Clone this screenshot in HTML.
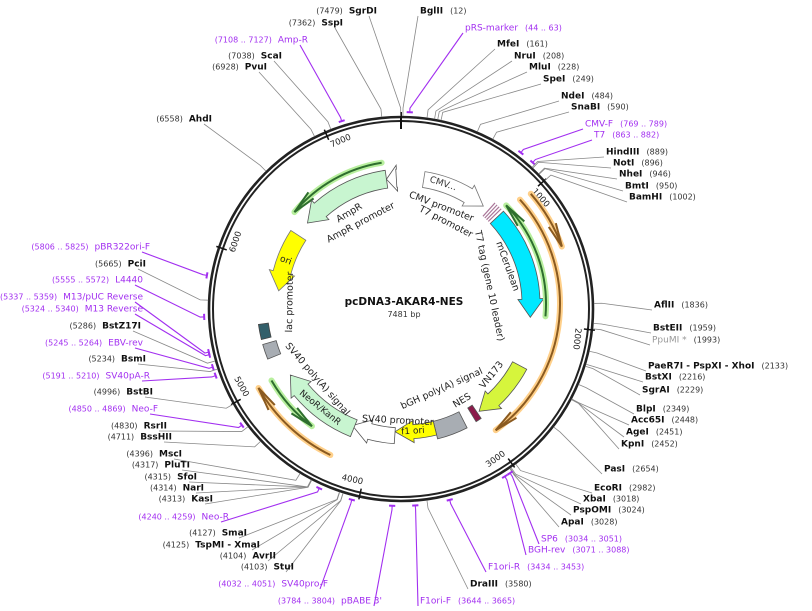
<!DOCTYPE html>
<html><head><meta charset="utf-8"><style>
html,body{margin:0;padding:0;background:#fff;}
svg{display:block;font-family:"DejaVu Sans","Liberation Sans",sans-serif;}
</style></head><body>
<svg id="s" width="812" height="611" viewBox="0 0 812 611" xmlns="http://www.w3.org/2000/svg"></svg>
<script>
var S=document.getElementById('s');var NS='http://www.w3.org/2000/svg';var PAR=S;
var cx=401,cy=309,TOT=7481;
function P(a,r){var t=a*Math.PI/180;return [cx+r*Math.sin(t),cy-r*Math.cos(t)];}
function el(tag,at,txt){var e=document.createElementNS(NS,tag);for(var k in at)e.setAttribute(k,at[k]);if(txt!=null)e.textContent=txt;PAR.appendChild(e);return e;}
function ang(bp){return bp/TOT*360;}
function arcD(a1,a2,r){var p1=P(a1,r),p2=P(a2,r);var sw=a2>a1?1:0;var lg=Math.abs(a2-a1)>180?1:0;return 'M'+p1[0]+' '+p1[1]+' A'+r+' '+r+' 0 '+lg+' '+sw+' '+p2[0]+' '+p2[1];}
function band(a1,a2,r,w,fill,stroke,h){
 h=h||7;var sg=a2>a1?1:-1;var ab=a2-sg*h*150/r;var ro=r+w/2,ri=r-w/2;
 var o1=P(a1,ro),o2=P(ab,ro),ho=P(ab,ro+4),t=P(a2,r),hi=P(ab,ri-4),i2=P(ab,ri),i1=P(a1,ri);
 var sw=sg>0?1:0;
 var d='M'+o1+' A'+ro+' '+ro+' 0 0 '+sw+' '+o2+' L'+ho+' L'+t+' L'+hi+' L'+i2+' A'+ri+' '+ri+' 0 0 '+(1-sw)+' '+i1+' Z';
 el('path',{d:d,fill:fill,stroke:stroke||'#555','stroke-width':0.8});
}
function box(a1,a2,r,w,fill,stroke){var ro=r+w/2,ri=r-w/2;var o1=P(a1,ro),o2=P(a2,ro),i2=P(a2,ri),i1=P(a1,ri);
 el('path',{d:'M'+o1+' A'+ro+' '+ro+' 0 0 1 '+o2+' L'+i2+' A'+ri+' '+ri+' 0 0 0 '+i1+' Z',fill:fill,stroke:stroke||'#555','stroke-width':0.8});}
function line(a1,a2,r,col,glow){
 el('path',{d:arcD(a1,a2,r),fill:'none',stroke:glow,'stroke-width':6,'stroke-linecap':'round'});
 el('path',{d:arcD(a1,a2,r),fill:'none',stroke:col,'stroke-width':2});
 var sg=a2>a1?1:-1;var ab=a2-sg*9*150/r;var t=P(a2,r),a=P(ab,r+4),b=P(ab,r-4);
 el('path',{d:'M'+a+' L'+t+' L'+b,fill:'none',stroke:col,'stroke-width':2});
}
function rtext(a,r,txt,size,rot,col,bold){var p=P(a,r);el('text',{x:p[0],y:p[1],'font-size':size,'text-anchor':'middle','dominant-baseline':'central',fill:col||'#222','font-weight':bold?'bold':'normal',transform:'rotate('+rot+' '+p[0]+' '+p[1]+')'},txt);}

// backbone circle
el('circle',{cx:cx,cy:cy,r:192,fill:'none',stroke:'#222','stroke-width':2.6});
el('circle',{cx:cx,cy:cy,r:188,fill:'none',stroke:'#222','stroke-width':2});
el('line',{x1:cx,y1:cy-197,x2:cx,y2:cy-180,stroke:'#111','stroke-width':2});
for(var k=1;k<=7;k++){var a=ang(k*1000);var p1=P(a,195),p2=P(a,184);el('line',{x1:p1[0],y1:p1[1],x2:p2[0],y2:p2[1],stroke:'#111','stroke-width':1.5});
 var rot=(a>100&&a<260)?a-180:a; rtext(a+3.4,178,String(k*1000),8.5,rot,'#222');}

// inner features group (measured relative to 404,304)
var G=el('g',{transform:'translate(3,-5)'});PAR=G;
line(-9,-50,143,'#2e6e2e','#b8ef9e');
band(-8,-50,126,18,'#c8f5d0','#555');
band(-3.5,-8,126,18,'#fff','#555',4);
band(-57,-84,126,18,'#ffff00','#777');
band(9,39,126,16,'#fff','#777');
rtext(18,126,'CMV...',9,18,'#333');
for(var i=0;i<4;i++){var q1=P(42+i*1.2,118),q2=P(42+i*1.2,136);el('line',{x1:q1[0],y1:q1[1],x2:q2[0],y2:q2[1],stroke:'#aa7799','stroke-width':1.2});}
band(47,96,127,18,'#00e8ff','#555');
line(95,46,142,'#2e6e2e','#b8ef9e');
line(48,144,156,'#8a5a20','#ffd08a');
line(49,70,168,'#8a5a20','#ffd08a');
band(118,145,131,16,'#d6f53c','#555');
box(146,148.5,130,16,'#8b1a4a','#555');
box(153,166,130,18,'#a8adb3','#555');
band(166,184,128,14,'#ffff00','#555');
rtext(176,128,'f1 ori',9,-4,'#222');
band(184,203,132,16,'#fff','#555');
band(202,238,134,18,'#c8f5d0','#555');
rtext(219,134,'NeoR/KanR',9,39,'#222');
line(240,217,153,'#2e6e2e','#b8ef9e');
line(206,240,168,'#8a5a20','#ffd08a');
box(248,254,140,14,'#a8adb3','#555');
box(256,262,142,10,'#335f6a','#444');
rtext(-70,126,'ori',9,20,'#222');
rtext(-31,106,'AmpR',9.5,-31);
rtext(-28,92,'AmpR promoter',9.5,-28);
rtext(21,104,'CMV promoter',9.5,21);
rtext(27,92,'T7 promoter',9.5,27);
rtext(78,87,'T7 tag (gene 10 leader)',9.5,78);
rtext(70,110,'mCerulean',9.5,70);
rtext(-89,114,'lac promoter',9.5,-89);
rtext(229,115,'SV40 poly(A) signal',9.5,49);
rtext(183,117,'SV40 promoter',9.5,3);
rtext(156,93,'bGH poly(A) signal',9.5,-24);
rtext(149,113,'NES',9.5,-31);
rtext(129,113,'VN173',9.5,-51);
el('text',{x:401,y:310,'font-size':10.5,'font-weight':'bold','text-anchor':'middle',fill:'#111'},'pcDNA3-AKAR4-NES');
el('text',{x:401,y:322,'font-size':8,'text-anchor':'middle',fill:'#333'},'7481 bp');
PAR=S;

var L=[
['BglII','(12)',420,10,'R',12,'b'],['pRS-marker','(44 .. 63)',465,27,'R',53,'p'],['MfeI','(161)',497,43,'R',161,'b'],
['NruI','(208)',514,55,'R',208,'b'],['MluI','(228)',529,66,'R',228,'b'],['SpeI','(249)',543,78,'R',249,'b'],
['NdeI','(484)',561,95,'R',484,'b'],['SnaBI','(590)',571,106,'R',590,'b'],['CMV-F','(769 .. 789)',585,123,'R',779,'p'],
['T7','(863 .. 882)',594,134,'R',872,'p'],['HindIII','(889)',606,151,'R',889,'b'],['NotI','(896)',613,162,'R',896,'b'],
['NheI','(946)',619,173,'R',946,'b'],['BmtI','(950)',625,185,'R',950,'b'],['BamHI','(1002)',629,196,'R',1002,'b'],
['AflII','(1836)',654,304,'R',1836,'b'],['BstEII','(1959)',653,327,'R',1959,'b'],['PpuMI *','(1993)',652,339,'R',1993,'g'],
['PaeR7I - PspXI - XhoI','(2133)',648,365,'R',2133,'b'],['BstXI','(2216)',645,376,'R',2216,'b'],['SgrAI','(2229)',642,389,'R',2229,'b'],
['BlpI','(2349)',636,408,'R',2349,'b'],['Acc65I','(2448)',631,419,'R',2448,'b'],['AgeI','(2451)',626,431,'R',2451,'b'],
['KpnI','(2452)',621,443,'R',2452,'b'],['PasI','(2654)',604,468,'R',2654,'b'],['EcoRI','(2982)',594,487,'R',2982,'b'],
['XbaI','(3018)',583,498,'R',3018,'b'],['PspOMI','(3024)',573,509,'R',3024,'b'],['ApaI','(3028)',561,521,'R',3028,'b'],
['SP6','(3034 .. 3051)',541,538,'R',3042,'p'],['BGH-rev','(3071 .. 3088)',528,549,'R',3080,'p'],
['F1ori-R','(3434 .. 3453)',488,566,'R',3443,'p'],['DraIII','(3580)',470,583,'R',3580,'b'],['F1ori-F','(3644 .. 3665)',420,600,'R',3654,'p'],
['pBABE 3\'','(3784 .. 3804)',382,600,'L',3794,'p'],['SV40pro-F','(4032 .. 4051)',328,583,'L',4041,'p'],
['StuI','(4103)',294,566,'L',4103,'b'],['AvrII','(4104)',276,555,'L',4104,'b'],['TspMI - XmaI','(4125)',260,544,'L',4125,'b'],
['SmaI','(4127)',247,532,'L',4127,'b'],['Neo-R','(4240 .. 4259)',229,516,'L',4250,'p'],['KasI','(4313)',213,498,'L',4313,'b'],
['NarI','(4314)',204,487,'L',4314,'b'],['SfoI','(4315)',197,476,'L',4315,'b'],['PluTI','(4317)',190,464,'L',4317,'b'],
['MscI','(4396)',182,453,'L',4396,'b'],['BssHII','(4711)',172,436,'L',4711,'b'],['RsrII','(4830)',167,425,'L',4830,'b'],
['Neo-F','(4850 .. 4869)',158,408,'L',4860,'p'],['BstBI','(4996)',153,391,'L',4996,'b'],['SV40pA-R','(5191 .. 5210)',150,375,'L',5200,'p'],
['BsmI','(5234)',146,358,'L',5234,'b'],['EBV-rev','(5245 .. 5264)',143,342,'L',5254,'p'],['BstZ17I','(5286)',141,325,'L',5286,'b'],
['M13 Reverse','(5324 .. 5340)',143,308,'L',5332,'p'],['M13/pUC Reverse','(5337 .. 5359)',143,296,'L',5348,'p'],
['L4440','(5555 .. 5572)',143,279,'L',5563,'p'],['PciI','(5665)',146,263,'L',5665,'b'],['pBR322ori-F','(5806 .. 5825)',150,246,'L',5815,'p'],
['AhdI','(6558)',212,118,'L',6558,'b'],['PvuI','(6928)',267,66,'L',6928,'b'],['ScaI','(7038)',282,55,'L',7038,'b'],
['Amp-R','(7108 .. 7127)',308,39,'L',7117,'p'],['SspI','(7362)',343,22,'L',7362,'b'],['SgrDI','(7479)',377,10,'L',7479,'b']
];
var PUR='#a22ff0';
L.forEach(function(d){
 var a=ang(d[5]);var col=d[6]=='p'?PUR:(d[6]=='g'?'#999':'#111');var lc=d[6]=='p'?PUR:'#888';
 var k=P(a,201),c=P(a,d[6]=='p'?197:193);
 var sx=d[4]=='R'?d[2]-2:d[2]-8, sy=d[3]+6;
 el('polyline',{points:sx+','+sy+' '+k+' '+c,fill:'none',stroke:lc,'stroke-width':d[6]=='p'?1.1:0.8});
 if(d[6]=='p'){var q1=P(a-0.9,197),q2=P(a+0.9,197);el('line',{x1:q1[0],y1:q1[1],x2:q2[0],y2:q2[1],stroke:PUR,'stroke-width':2});}
 var y=d[3]+3.5;var bw=d[6]=='b'?'bold':'normal';
 if(d[4]=='R'){var t=el('text',{x:d[2],y:y,'font-size':9,fill:col});
  var a1=document.createElementNS(NS,'tspan');a1.setAttribute('font-weight',bw);a1.textContent=d[0];t.appendChild(a1);
  var a2=document.createElementNS(NS,'tspan');a2.setAttribute('dx',7);a2.setAttribute('font-size',8);a2.setAttribute('fill',d[6]=='p'?PUR:'#333');a2.textContent=d[1];t.appendChild(a2);}
 else{var t=el('text',{x:d[2],y:y,'font-size':9,fill:col,'text-anchor':'end'});
  var a2=document.createElementNS(NS,'tspan');a2.setAttribute('font-size',8);a2.setAttribute('fill',d[6]=='p'?PUR:'#333');a2.textContent=d[1];t.appendChild(a2);
  var a1=document.createElementNS(NS,'tspan');a1.setAttribute('font-weight',bw);a1.setAttribute('dx',6);a1.textContent=d[0];t.appendChild(a1);}
});
</script>
</body></html>
